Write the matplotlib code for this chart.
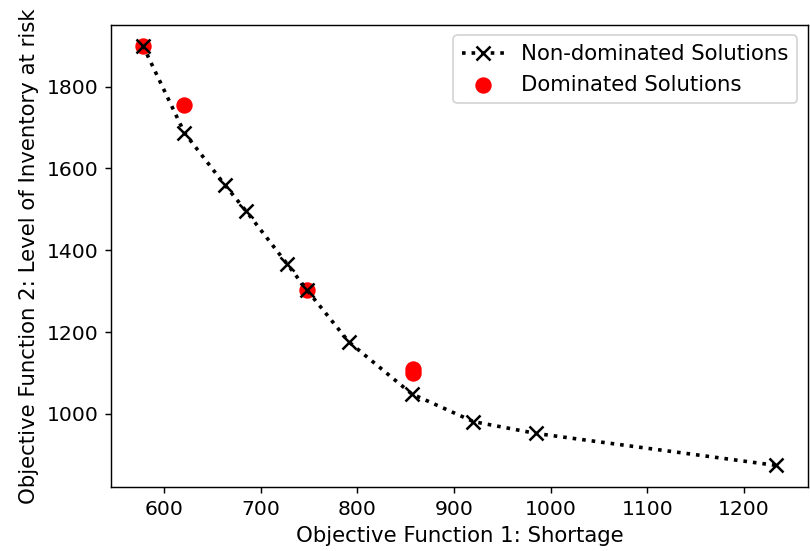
import numpy as np
import matplotlib.pyplot as plt

# non-dominated front
nd_x = [578, 621, 663, 685, 727, 748, 791, 856, 920, 985, 1233]
nd_y = [1900, 1687, 1559, 1495, 1367, 1302, 1176, 1049, 981, 952, 874]

# dominated solutions
d_x = [578, 621, 748, 857, 857]
d_y = [1900, 1754, 1303, 1110, 1099]

plt.rcParams["font.size"] = 11.8
plt.rcParams["xtick.labelsize"] = 11.3
plt.rcParams["ytick.labelsize"] = 11.3

dpi = 130
fig = plt.figure(figsize=(810/dpi, 551/dpi), dpi=dpi)
ax = fig.add_subplot(1, 1, 1)
fig.subplots_adjust(left=0.137, right=0.9975, bottom=0.116, top=0.955)

ax.plot(nd_x, nd_y, ls=":", lw=2, color="black", marker="x", markersize=7.5,
        markeredgewidth=1.4, label="Non-dominated Solutions", zorder=3)
ax.scatter(d_x, d_y, s=65, color="red", label="Dominated Solutions", zorder=2)

ax.set_xlim(545, 1266)
ax.set_ylim(821, 1951)
ax.set_xticks([600, 700, 800, 900, 1000, 1100, 1200])
ax.set_yticks([1000, 1200, 1400, 1600, 1800])

ax.set_xlabel("Objective Function 1: Shortage")
ax.set_ylabel("Objective Function 2: Level of Inventory at risk")
ax.legend(loc="upper right")

fig.savefig("out.png", dpi=dpi)
